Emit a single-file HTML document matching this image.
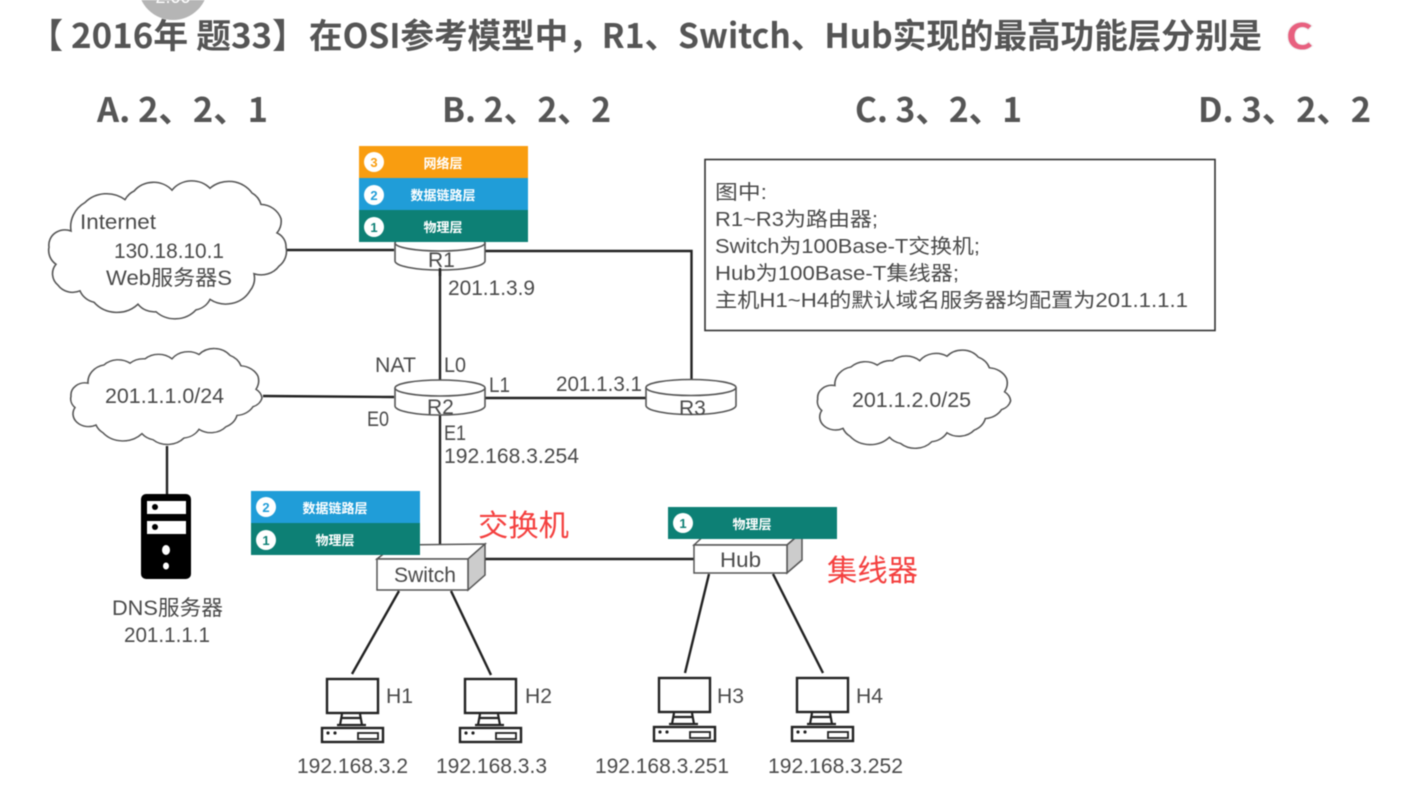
<!DOCTYPE html>
<html lang="zh"><head><meta charset="utf-8"><title>OSI</title>
<style>
html,body{margin:0;padding:0;background:#fff;width:1416px;height:787px;overflow:hidden}
svg{display:block;filter:blur(.5px)}
text{font-family:"Liberation Sans","Noto Sans CJK SC",sans-serif;fill:#4a4a4a}
.h{font-family:"Noto Sans CJK SC","Liberation Sans",sans-serif;font-weight:700;fill:#555}
.l{font-size:21px}
.w{font-size:13px;fill:#fff;font-weight:700;text-anchor:middle}
.n{font-size:13px;font-weight:700;text-anchor:middle}
.k{stroke:#222;stroke-width:2.4;fill:none}
.c{fill:#fff;stroke:#555;stroke-width:1.6}
.r{font-size:30px;fill:#f4403f}
</style></head><body>
<svg width="1416" height="787" viewBox="0 0 1416 787" xmlns="http://www.w3.org/2000/svg">
<defs>
<g id="pc">
<rect x="327" y="679" width="51" height="34" fill="#fff" stroke="#222" stroke-width="2.4"/>
<path d="M342 714L340 725M360 714L362 725M337 725H366M342 718H360" stroke="#222" stroke-width="2.2" fill="none"/>
<rect x="322" y="728" width="61" height="14" fill="#fff" stroke="#222" stroke-width="2.4"/>
<rect x="358" y="733" width="20" height="6" fill="#fff" stroke="#222" stroke-width="1.8"/>
<circle cx="328" cy="733" r="1.6" fill="#222"/><circle cx="335" cy="733" r="1.6" fill="#222"/>
</g>
<g id="cyl">
<path d="M-45 8V26A45 9 0 0 0 45 26V8" fill="#fff" stroke="#555" stroke-width="1.6"/>
<ellipse cx="0" cy="8" rx="45" ry="8" fill="#fff" stroke="#555" stroke-width="1.6"/>
</g>
<path id="cl2" class="c" d="M88 380A20 20 0 0 1 104 359A20 20 0 0 1 130 357A20 20 0 0 1 145 352A20 20 0 0 1 172 352A20 20 0 0 1 199 347A20 20 0 0 1 230 348A20 20 0 0 1 241 360A20 20 0 0 1 258 372A20 20 0 0 1 256 387A14 14 0 0 1 262 397A14 14 0 0 1 253 407A20 20 0 0 1 237 417A20 20 0 0 1 226 430A20 20 0 0 1 199 433A20 20 0 0 1 184 443A22 22 0 0 1 153 445A20 20 0 0 1 142 438A26 26 0 0 1 103 437A20 20 0 0 1 96 428A16 16 0 0 1 77 425A14 14 0 0 1 75 408A14 14 0 0 1 71 395A14 14 0 0 1 88 380Z"/>
</defs>

<ellipse cx="173" cy="-15" rx="35" ry="35" fill="#b5b5b5"/>
<text x="173" y="3" font-size="18" text-anchor="middle" style="fill:#fff">2.00</text>

<text class="h" x="29" y="48" font-size="34">【</text>
<text class="h" x="71" y="48" font-size="34" textLength="236" lengthAdjust="spacingAndGlyphs">2016年 题33】</text>
<text class="h" x="309" y="48" font-size="34" textLength="953" lengthAdjust="spacingAndGlyphs">在OSI参考模型中，R1、Switch、Hub实现的最高功能层分别是</text>
<text class="h" x="1286" y="49" font-size="35" textLength="27" lengthAdjust="spacingAndGlyphs" style="fill:#e8607f;paint-order:stroke;stroke:#eee;stroke-width:2px">C</text>
<text class="h" x="97" y="122" font-size="34" textLength="171" lengthAdjust="spacingAndGlyphs">A. 2、2、1</text>
<text class="h" x="442" y="122" font-size="34" textLength="169" lengthAdjust="spacingAndGlyphs">B. 2、2、2</text>
<text class="h" x="855" y="122" font-size="34" textLength="167" lengthAdjust="spacingAndGlyphs">C. 3、2、1</text>
<text class="h" x="1198" y="122" font-size="34" textLength="173" lengthAdjust="spacingAndGlyphs">D. 3、2、2</text>

<!-- connectors -->
<path class="k" d="M285 250H394M485 251H691.500V381M440 268V382"/>
<path class="k" d="M263 396L394 397M485 398H646M440 414V546M167 446V495M485 559H694"/>
<path class="k" d="M399 591L352 674M451 591L491 675M709 574L685 673M773 574L823 673"/>

<!-- Internet cloud -->
<path class="c" transform="translate(0,12.500) scale(1,.95)" d="M71 230A30 30 0 0 1 85 200A30 30 0 0 1 125 197A22 22 0 0 1 134 188A25 25 0 0 1 172 187A25 25 0 0 1 210 185A28 28 0 0 1 252 190A20 20 0 0 1 261 202A22 22 0 0 1 281 217A20 20 0 0 1 277 232A16 16 0 0 1 286 247A20 20 0 0 1 279 267A22 22 0 0 1 254 275A22 22 0 0 1 250 293A28 28 0 0 1 210 302A20 20 0 0 1 196 313A28 28 0 0 1 156 315A20 20 0 0 1 138 307A30 30 0 0 1 94 305A20 20 0 0 1 80 293A18 18 0 0 1 58 287A16 16 0 0 1 56 265A18 18 0 0 1 49 247A16 16 0 0 1 71 230Z"/>
<text class="l" x="80" y="229" textLength="76" lengthAdjust="spacingAndGlyphs">Internet</text>
<text class="l" x="114" y="258" textLength="110" lengthAdjust="spacingAndGlyphs">130.18.10.1</text>
<text class="l" x="106" y="285" textLength="126" lengthAdjust="spacingAndGlyphs">Web服务器S</text>

<use href="#cl2" transform="translate(0,52.600) scale(1,.87)"/>
<text class="l" x="105" y="403" textLength="119" lengthAdjust="spacingAndGlyphs">201.1.1.0/24</text>
<use href="#cl2" transform="translate(746,47.400) scale(1.01,.89)"/>
<text class="l" x="852" y="407" textLength="119" lengthAdjust="spacingAndGlyphs">201.1.2.0/25</text>

<!-- routers -->
<use href="#cyl" transform="translate(440,235)"/>
<text class="l" x="428" y="267">R1</text>
<use href="#cyl" transform="translate(440,380)"/>
<text class="l" x="427" y="414">R2</text>
<use href="#cyl" transform="translate(691,379.500)"/>
<text class="l" x="679" y="415">R3</text>
<path class="k" d="M440 268V276"/>

<!-- layer stacks -->
<rect x="359" y="146" width="169" height="32" fill="#f99d10"/>
<rect x="359" y="178" width="169" height="32" fill="#209dd8"/>
<rect x="359" y="210" width="169" height="32" fill="#0d8075"/>
<circle cx="374" cy="162" r="10" fill="#fff"/><text class="n" x="374" y="167" style="fill:#f99d10">3</text>
<circle cx="374" cy="195" r="10" fill="#fff"/><text class="n" x="374" y="200" style="fill:#209dd8">2</text>
<circle cx="374" cy="227" r="10" fill="#fff"/><text class="n" x="374" y="232" style="fill:#0d8075">1</text>
<text class="w" x="443" y="168">网络层</text>
<text class="w" x="443" y="200">数据链路层</text>
<text class="w" x="443" y="232">物理层</text>

<!-- info box -->
<rect x="705" y="159.500" width="510" height="171" fill="#fff" stroke="#333" stroke-width="1.6"/>
<text class="l" x="715" y="199" style="font-size:20px" textLength="52" lengthAdjust="spacingAndGlyphs">图中:</text>
<text class="l" x="715" y="226" style="font-size:20px" textLength="163" lengthAdjust="spacingAndGlyphs">R1~R3为路由器;</text>
<text class="l" x="715" y="253" style="font-size:20px" textLength="265" lengthAdjust="spacingAndGlyphs">Switch为100Base-T交换机;</text>
<text class="l" x="715" y="280" style="font-size:20px" textLength="244" lengthAdjust="spacingAndGlyphs">Hub为100Base-T集线器;</text>
<text class="l" x="715" y="307" style="font-size:20px" textLength="473" lengthAdjust="spacingAndGlyphs">主机H1~H4的默认域名服务器均配置为201.1.1.1</text>

<!-- R labels -->
<text class="l" x="448" y="295" textLength="87" lengthAdjust="spacingAndGlyphs">201.1.3.9</text>
<text class="l" x="375" y="372" textLength="41" lengthAdjust="spacingAndGlyphs">NAT</text>
<text class="l" x="444" y="372" textLength="22" lengthAdjust="spacingAndGlyphs">L0</text>
<text class="l" x="489" y="392" textLength="21" lengthAdjust="spacingAndGlyphs">L1</text>
<text class="l" x="556" y="391" textLength="86" lengthAdjust="spacingAndGlyphs">201.1.3.1</text>
<text class="l" x="367" y="426" textLength="22" lengthAdjust="spacingAndGlyphs">E0</text>
<text class="l" x="444" y="440" textLength="22" lengthAdjust="spacingAndGlyphs">E1</text>
<text class="l" x="444" y="463" textLength="135" lengthAdjust="spacingAndGlyphs">192.168.3.254</text>

<!-- server -->
<rect x="141" y="494" width="50" height="85" rx="5" fill="#000"/>
<rect x="147" y="501" width="39" height="13" fill="#fff"/>
<rect x="147" y="521" width="39" height="13" fill="#fff"/>
<circle cx="155" cy="507" r="3" fill="#000"/><circle cx="155" cy="527" r="3" fill="#000"/>
<ellipse cx="166" cy="550" rx="4" ry="5" fill="#fff"/><ellipse cx="166" cy="566" rx="3" ry="3.500" fill="#fff"/>
<text class="l" x="112" y="615" textLength="111" lengthAdjust="spacingAndGlyphs">DNS服务器</text>
<text class="l" x="124" y="642" textLength="86" lengthAdjust="spacingAndGlyphs">201.1.1.1</text>

<!-- switch -->
<polygon points="377,559 395,545 485,544 468,559" fill="#fff" stroke="#555" stroke-width="1.5"/>
<polygon points="468,559 485,544 485,575 468,590" fill="#ccc" stroke="#555" stroke-width="1.5"/>
<rect x="377" y="559" width="91" height="31" fill="#fff" stroke="#555" stroke-width="1.5"/>
<text class="l" x="394" y="582" textLength="62" lengthAdjust="spacingAndGlyphs">Switch</text>
<rect x="251" y="491" width="169" height="32" fill="#209dd8"/>
<rect x="251" y="523" width="169" height="32" fill="#0d8075"/>
<circle cx="266" cy="507" r="10" fill="#fff"/><text class="n" x="266" y="512" style="fill:#209dd8">2</text>
<circle cx="266" cy="540" r="10" fill="#fff"/><text class="n" x="266" y="545" style="fill:#0d8075">1</text>
<text class="w" x="335" y="513">数据链路层</text>
<text class="w" x="335" y="545">物理层</text>

<!-- hub -->
<polygon points="694,545 708,532 802,532 787,545" fill="#fff" stroke="#555" stroke-width="1.5"/>
<polygon points="787,545 802,532 802,560 787,573" fill="#ccc" stroke="#555" stroke-width="1.5"/>
<rect x="694" y="545" width="93" height="28" fill="#fff" stroke="#555" stroke-width="1.5"/>
<text class="l" x="720" y="567" textLength="41" lengthAdjust="spacingAndGlyphs">Hub</text>
<rect x="668" y="507" width="169" height="32" fill="#0d8075"/>
<circle cx="683" cy="523" r="10" fill="#fff"/><text class="n" x="683" y="528" style="fill:#0d8075">1</text>
<text class="w" x="752" y="529">物理层</text>

<text class="r" x="478" y="536" textLength="91" lengthAdjust="spacingAndGlyphs">交换机</text>
<text class="r" x="827" y="581" textLength="91" lengthAdjust="spacingAndGlyphs">集线器</text>

<!-- hosts -->
<use href="#pc"/>
<use href="#pc" transform="translate(138,0)"/>
<use href="#pc" transform="translate(332,-1)"/>
<use href="#pc" transform="translate(470,-1)"/>
<text class="l" x="386" y="703" textLength="27" lengthAdjust="spacingAndGlyphs">H1</text>
<text class="l" x="525" y="703" textLength="27" lengthAdjust="spacingAndGlyphs">H2</text>
<text class="l" x="717" y="703" textLength="27" lengthAdjust="spacingAndGlyphs">H3</text>
<text class="l" x="856" y="703" textLength="27" lengthAdjust="spacingAndGlyphs">H4</text>
<text class="l" x="297" y="773" textLength="111" lengthAdjust="spacingAndGlyphs">192.168.3.2</text>
<text class="l" x="436" y="773" textLength="111" lengthAdjust="spacingAndGlyphs">192.168.3.3</text>
<text class="l" x="595" y="773" textLength="134" lengthAdjust="spacingAndGlyphs">192.168.3.251</text>
<text class="l" x="768" y="773" textLength="135" lengthAdjust="spacingAndGlyphs">192.168.3.252</text>
</svg>
</body></html>
